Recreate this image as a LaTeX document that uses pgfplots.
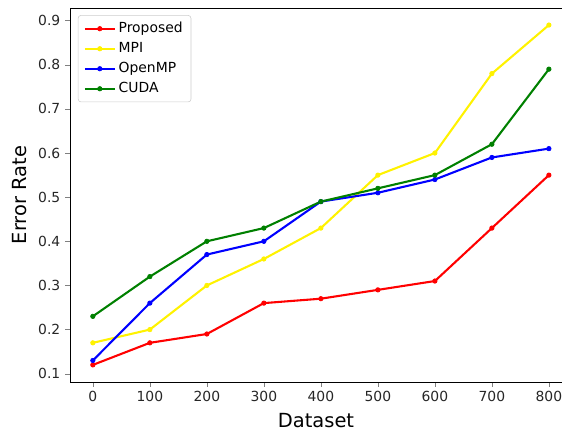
\documentclass[border=0pt]{standalone}
\usepackage{fontspec}
\setmainfont{DejaVu Sans}
\usepackage{pgfplots}
\pgfplotsset{compat=1.18}

\begin{document}
\begin{tikzpicture}
\begin{axis}[
  scale only axis,
  width=354pt,
  height=269pt,
  xmin=-40, xmax=823,
  ymin=0.0815, ymax=0.9285,
  axis y line*=left,
  axis x line*=box,
  xtick pos=left,
  ytick pos=left,
  tick align=outside,
  major tick length=3.5pt,
  xtick={0,100,...,800},
  ytick={0.1,0.2,...,0.9},
  /pgf/number format/assume math mode=true,
  /pgf/number format/fixed,
  /pgf/number format/precision=1,
  scaled ticks=false,
  tick label style={font=\fontsize{10}{12}\selectfont, text=black!85},
  xlabel={Dataset},
  ylabel={Error Rate},
  label style={font=\fontsize{14}{16}\selectfont},
  xlabel style={yshift=-1pt},
  ylabel style={yshift=1pt},
  every axis plot/.append style={line width=1.5pt, mark=*, mark size=1.6pt,
    mark options={line width=0.5pt}},
  legend style={
    at={(0.016,0.981)}, anchor=north west,
    draw=black!20, rounded corners=2pt,
    font=\fontsize{10}{12}\selectfont,
    row sep=1.5pt, inner xsep=4pt, inner ysep=3pt,
    cells={anchor=west},
  },
  legend image code/.code={
    \draw[line width=1.5pt,mark repeat=2,mark phase=2,#1]
      plot coordinates {(0cm,0cm) (0.38cm,0cm) (0.76cm,0cm)};
  },
  clip=false,
]
\addplot[color=red] coordinates {
  (0,0.12) (100,0.17) (200,0.19) (300,0.26) (400,0.27) (500,0.29) (600,0.31) (700,0.43) (800,0.55)};
\addplot[color=yellow] coordinates {
  (0,0.17) (100,0.20) (200,0.30) (300,0.36) (400,0.43) (500,0.55) (600,0.60) (700,0.78) (800,0.89)};
\addplot[color=blue] coordinates {
  (0,0.13) (100,0.26) (200,0.37) (300,0.40) (400,0.49) (500,0.51) (600,0.54) (700,0.59) (800,0.61)};
\addplot[color={rgb,255:red,0;green,128;blue,0}] coordinates {
  (0,0.23) (100,0.32) (200,0.40) (300,0.43) (400,0.49) (500,0.52) (600,0.55) (700,0.62) (800,0.79)};
\legend{Proposed, MPI, OpenMP, CUDA}
\end{axis}
\pgfresetboundingbox
\path ([shift={(-50.4pt,-38.2pt)}]current axis.south west) rectangle ([shift={(0pt,5.8pt)}]current axis.north east);
\end{tikzpicture}
\end{document}
